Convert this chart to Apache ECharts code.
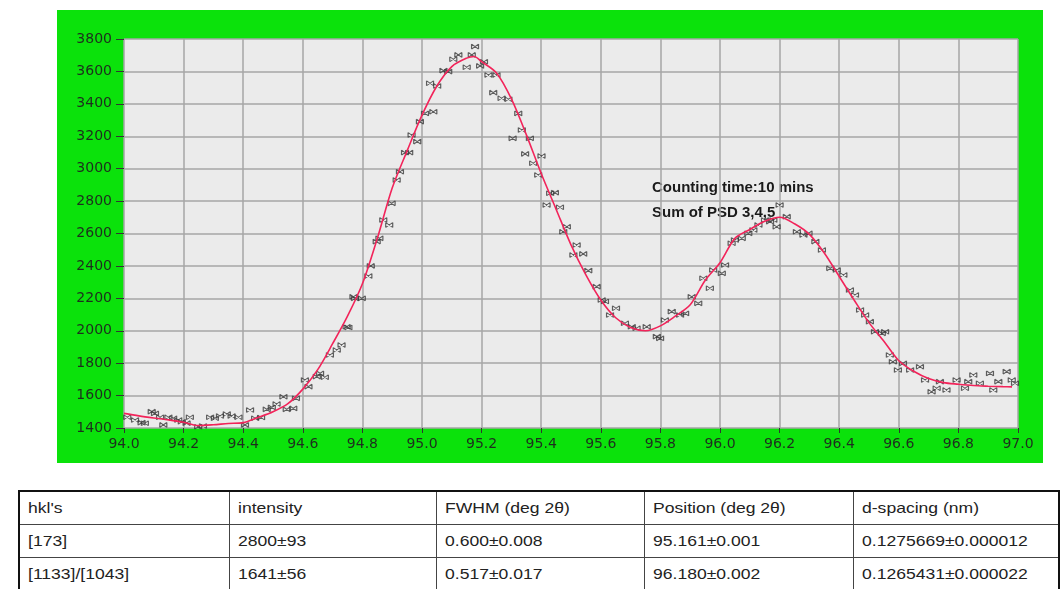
<!DOCTYPE html>
<html>
<head>
<meta charset="utf-8">
<script src="https://cdn.jsdelivr.net/npm/echarts@6/dist/echarts.min.js"></script>
<style>
  html, body { margin:0; padding:0; background:#ffffff; width:1062px; height:589px; overflow:hidden; }
  #frame { position:absolute; left:57px; top:10px; width:986px; height:453px; background:#0be20b; }
  #chart { position:absolute; left:0; top:0; width:1062px; height:470px; }
  #tbl { position:absolute; left:18px; top:490px; width:1040px; table-layout:fixed; border-collapse:collapse; border:2px solid #111;
         font-family:"Liberation Sans", Arial, sans-serif; font-size:15px; color:#222; }
  #tbl td { box-sizing:border-box; border:1px solid #444; padding:0 0 0 8px; height:33px; vertical-align:middle; white-space:nowrap; overflow:visible; }
  #tbl td span { display:inline-block; transform:scaleX(1.17); transform-origin:0 50%; }
</style>
</head>
<body>
<div id="frame"></div>
<div id="chart"></div>
<table id="tbl"></table>
<script>
// ---- data ----
const scanTheta = [94.011,94.037,94.059,94.070,94.093,94.104,94.121,94.132,94.149,94.165,94.182,94.194,94.210,94.221,94.249,94.265,94.289,94.305,94.322,94.345,94.361,94.384,94.406,94.423,94.440,94.460,94.479,94.496,94.512,94.535,94.546,94.568,94.577,94.607,94.619,94.647,94.658,94.674,94.691,94.714,94.730,94.747,94.753,94.770,94.775,94.798,94.820,94.828,94.848,94.857,94.870,94.890,94.898,94.915,94.926,94.943,94.957,94.965,94.984,94.993,95.010,95.027,95.038,95.051,95.072,95.088,95.105,95.122,95.150,95.167,95.178,95.195,95.208,95.223,95.239,95.250,95.267,95.290,95.304,95.323,95.335,95.346,95.362,95.373,95.390,95.401,95.418,95.430,95.446,95.463,95.474,95.486,95.508,95.519,95.541,95.558,95.586,95.603,95.614,95.631,95.651,95.681,95.704,95.720,95.754,95.788,95.799,95.815,95.838,95.866,95.883,95.905,95.927,95.944,95.966,95.977,96.006,96.017,96.039,96.050,96.073,96.095,96.112,96.129,96.151,96.168,96.179,96.190,96.200,96.224,96.258,96.280,96.297,96.320,96.342,96.370,96.392,96.414,96.436,96.453,96.470,96.487,96.503,96.520,96.543,96.554,96.570,96.580,96.597,96.614,96.638,96.671,96.688,96.710,96.727,96.738,96.760,96.794,96.822,96.833,96.850,96.872,96.906,96.917,96.934,96.962,96.979,96.990];
const scanCounts = [1466,1449,1433,1429,1501,1490,1466,1419,1466,1460,1449,1439,1430,1466,1408,1412,1466,1460,1474,1486,1474,1466,1419,1511,1460,1465,1515,1527,1548,1593,1515,1521,1583,1696,1655,1717,1737,1713,1850,1881,1912,2025,2020,2210,2200,2200,2338,2400,2550,2570,2683,2652,2786,2930,2981,3099,3099,3208,3167,3290,3341,3527,3351,3510,3605,3599,3675,3702,3626,3702,3753,3634,3660,3578,3469,3578,3434,3428,3187,3341,3239,3091,3187,3033,2961,3078,2776,2848,2852,2762,2611,2642,2467,2529,2474,2371,2272,2190,2180,2097,2139,2046,2025,2015,2025,1964,1953,2066,2118,2097,2107,2210,2169,2324,2262,2375,2354,2406,2540,2560,2570,2601,2622,2652,2683,2673,2683,2642,2776,2704,2611,2591,2601,2550,2498,2385,2375,2344,2251,2221,2128,2097,2056,1994,1984,1994,1850,1809,1758,1799,1758,1778,1696,1624,1645,1686,1634,1696,1645,1686,1727,1676,1737,1634,1686,1748,1696,1676];
const fitTheta = [94.00,94.05,94.10,94.15,94.20,94.25,94.30,94.35,94.40,94.45,94.50,94.55,94.60,94.65,94.70,94.75,94.80,94.85,94.90,94.95,95.00,95.05,95.10,95.15,95.175,95.20,95.25,95.30,95.35,95.40,95.45,95.50,95.55,95.60,95.65,95.70,95.75,95.80,95.85,95.90,95.95,96.00,96.05,96.10,96.15,96.20,96.25,96.30,96.35,96.40,96.45,96.50,96.55,96.60,96.65,96.70,96.75,96.80,96.85,96.90,96.95,96.98];
const fitCounts = [1490,1475,1462,1450,1435,1415,1420,1428,1433,1465,1500,1550,1640,1760,1920,2090,2290,2570,2880,3110,3330,3510,3630,3682,3692,3660,3590,3430,3210,2970,2750,2530,2345,2190,2080,2020,2000,2030,2090,2160,2310,2420,2570,2625,2675,2700,2660,2595,2480,2335,2190,2050,1935,1815,1750,1705,1680,1670,1662,1658,1655,1654];
const annotationLines = ["Counting time:10 mins", "Sum of PSD 3,4,5"];
const tableHeader = ["hkl's", "intensity", "FWHM (deg 2\u03B8)", "Position (deg 2\u03B8)", "d-spacing (nm)"];
const tableRow1 = ["[173]", "2800\u00B193", "0.600\u00B10.008", "95.161\u00B10.001", "0.1275669\u00B10.000012"];
const tableRow2 = ["[1133]/[1043]", "1641\u00B156", "0.517\u00B10.017", "96.180\u00B10.002", "0.1265431\u00B10.000022"];

// ---- table ----
const colW = [210, 207, 208, 209, 206];
const tbl = document.getElementById('tbl');
const cg = document.createElement('colgroup');
colW.forEach(function (w) { const c = document.createElement('col'); c.style.width = w + 'px'; cg.appendChild(c); });
tbl.appendChild(cg);
[tableHeader, tableRow1, tableRow2].forEach(function (row) {
  const tr = document.createElement('tr');
  row.forEach(function (txt) {
    const td = document.createElement('td');
    const sp = document.createElement('span');
    sp.textContent = txt;
    td.appendChild(sp);
    tr.appendChild(td);
  });
  tbl.appendChild(tr);
});

// ---- chart ----
const chart = echarts.init(document.getElementById('chart'), null, { renderer: 'canvas' });
const scatterData = scanTheta.map(function (t, i) { return [t, scanCounts[i]]; });
const fitData = fitTheta.map(function (t, i) { return [t, fitCounts[i]]; });
const lblStyle = { color: '#1e2e1e', fontFamily: 'DejaVu Sans', fontSize: 14 };
chart.setOption({
  backgroundColor: 'transparent',
  animation: false,
  grid: { left: 124, right: 44, top: 39, bottom: 42, show: true, backgroundColor: '#ebebeb', borderWidth: 0 },
  xAxis: {
    type: 'value', min: 94, max: 97, interval: 0.2,
    axisLine: { show: false },
    axisTick: { show: true, length: 5, lineStyle: { color: '#333', width: 1 } },
    axisLabel: Object.assign({ margin: 9, formatter: function (v) { return v.toFixed(1); } }, lblStyle),
    splitLine: { show: true, lineStyle: { color: '#a6a6a6', width: 1.5 } }
  },
  yAxis: {
    type: 'value', min: 1400, max: 3800, interval: 200,
    axisLine: { show: false },
    axisTick: { show: true, length: 8, lineStyle: { color: '#333', width: 1 } },
    axisLabel: Object.assign({ margin: 12, formatter: function (v) { return String(v); } }, lblStyle),
    splitLine: { show: true, lineStyle: { color: '#a6a6a6', width: 1.5 } }
  },
  graphic: [
    { type: 'text', left: 652, top: 180, style: { text: annotationLines[0], fill: '#1a1a1a', font: 'bold 15px "Liberation Sans", Arial, sans-serif' } },
    { type: 'text', left: 652, top: 205, style: { text: annotationLines[1], fill: '#1a1a1a', font: 'bold 15px "Liberation Sans", Arial, sans-serif' } }
  ],
  series: [
    {
      type: 'scatter', data: scatterData,
      symbol: 'path://M0,0L10,10M0,10L10,0M0,0L0,10M10,0L10,10',
      symbolSize: [7, 5],
      itemStyle: { color: 'none', borderColor: '#3a3a3a', borderWidth: 1 },
      z: 2
    },
    {
      type: 'line', data: fitData, smooth: 0.3, showSymbol: false,
      lineStyle: { color: '#f2245a', width: 1.6 },
      z: 3
    }
  ]
});
</script>
</body>
</html>
